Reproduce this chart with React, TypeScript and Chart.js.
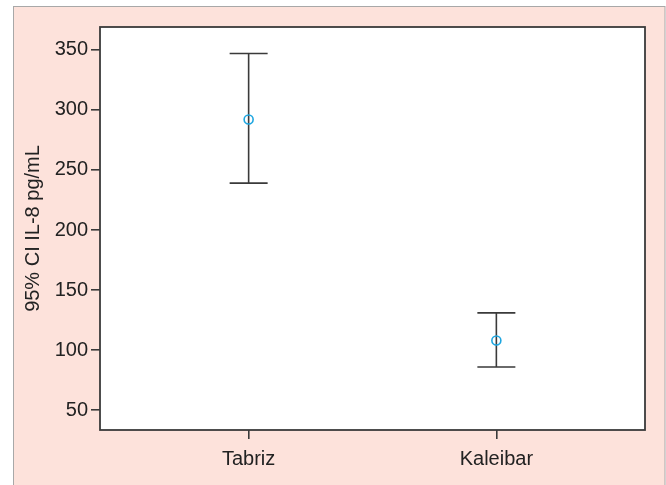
import React, { useEffect, useRef } from "react";
import { Chart, registerables } from "chart.js";

Chart.register(...registerables);

const categories = ["Tabriz", "Kaleibar"];
const means = [292, 108];
const lowerCI = [239, 86];
const upperCI = [347, 131];
const yTicks = [50, 100, 150, 200, 250, 300, 350];

const FONT = "'Liberation Sans', Arial, Helvetica, sans-serif";
const TEXT = "#222222";
const AXIS = "#3a3a3a";

const backgroundPlugin = {
  id: "panelBg",
  beforeDraw(chart: any) {
    const ctx = chart.ctx;
    ctx.save();
    ctx.fillStyle = "#ffffff";
    ctx.fillRect(0, 0, chart.width, chart.height);
    ctx.fillStyle = "#fde2db";
    ctx.fillRect(13, 6, 652, chart.height);
    ctx.strokeStyle = "#a8a8a8";
    ctx.lineWidth = 1;
    ctx.strokeRect(13.5, 6.5, 651.5, chart.height + 10);
    const a = chart.chartArea;
    ctx.fillStyle = "#ffffff";
    ctx.fillRect(a.left, a.top, a.right - a.left, a.bottom - a.top);
    ctx.restore();
  },
};

const errorBarPlugin = {
  id: "errorBars",
  beforeDatasetsDraw(chart: any) {
    const ctx = chart.ctx;
    const xs = chart.scales.x;
    const ys = chart.scales.y;
    ctx.save();
    ctx.strokeStyle = "#3a3a3a";
    ctx.lineWidth = 1.6;
    categories.forEach((_, i) => {
      const px = xs.getPixelForValue(i);
      const yl = ys.getPixelForValue(lowerCI[i]);
      const yu = ys.getPixelForValue(upperCI[i]);
      const half = 19;
      ctx.beginPath();
      ctx.moveTo(px, yu);
      ctx.lineTo(px, yl);
      ctx.moveTo(px - half, yu);
      ctx.lineTo(px + half, yu);
      ctx.moveTo(px - half, yl);
      ctx.lineTo(px + half, yl);
      ctx.stroke();
    });
    ctx.restore();
  },
  afterDraw(chart: any) {
    const ctx = chart.ctx;
    const a = chart.chartArea;
    ctx.save();
    ctx.strokeStyle = AXIS;
    ctx.lineWidth = 1.8;
    ctx.strokeRect(a.left, a.top, a.right - a.left, a.bottom - a.top);
    ctx.restore();
  },
};

export default function App() {
  const ref = useRef<HTMLCanvasElement | null>(null);

  useEffect(() => {
    if (!ref.current) return;
    const chart = new Chart(ref.current, {
      type: "scatter",
      data: {
        datasets: [
          {
            data: means.map((m, i) => ({ x: i, y: m })),
            pointRadius: 4.5,
            pointHoverRadius: 4.5,
            pointBorderWidth: 1.6,
            pointBorderColor: "#1ea6e0",
            pointBackgroundColor: "rgba(255,255,255,0)",
          },
        ],
      },
      options: {
        animation: false,
        responsive: false,
        maintainAspectRatio: false,
        events: [],
        layout: { padding: { top: 27, right: 21, left: 0, bottom: 0 } },
        plugins: {
          legend: { display: false },
          tooltip: { enabled: false },
        },
        scales: {
          x: {
            type: "linear",
            min: -0.6,
            max: 1.6,
            afterBuildTicks: (scale: any) => {
              scale.ticks = categories.map((_, i) => ({ value: i }));
            },
            afterFit: (scale: any) => {
              scale.height = 55;
            },
            ticks: {
              callback: (v: any) => categories[v as number] ?? "",
              color: TEXT,
              font: { family: FONT, size: 20 },
              padding: 8,
              maxRotation: 0,
            },
            grid: {
              drawOnChartArea: false,
              tickLength: 9,
              color: AXIS,
              lineWidth: 1.6,
            },
            border: { display: false },
          },
          y: {
            type: "linear",
            min: 33.5,
            max: 369,
            afterBuildTicks: (scale: any) => {
              scale.ticks = yTicks.map((v) => ({ value: v }));
            },
            afterFit: (scale: any) => {
              scale.width = 100;
            },
            ticks: {
              color: TEXT,
              font: { family: FONT, size: 20 },
              padding: 3,
            },
            grid: {
              drawOnChartArea: false,
              tickLength: 9,
              color: AXIS,
              lineWidth: 1.6,
            },
            border: { display: false },
            title: {
              display: true,
              text: "95% CI IL-8 pg/mL",
              color: TEXT,
              font: { family: FONT, size: 20 },
              padding: { top: 21, bottom: 0 },
            },
          },
        },
      },
      plugins: [backgroundPlugin, errorBarPlugin],
    });
    return () => chart.destroy();
  }, []);

  return (
    <div style={{ position: "fixed", left: 0, top: 0, width: 666, height: 485 }}>
      <canvas ref={ref} width={666} height={485} style={{ width: 666, height: 485, display: "block" }} />
    </div>
  );
}
